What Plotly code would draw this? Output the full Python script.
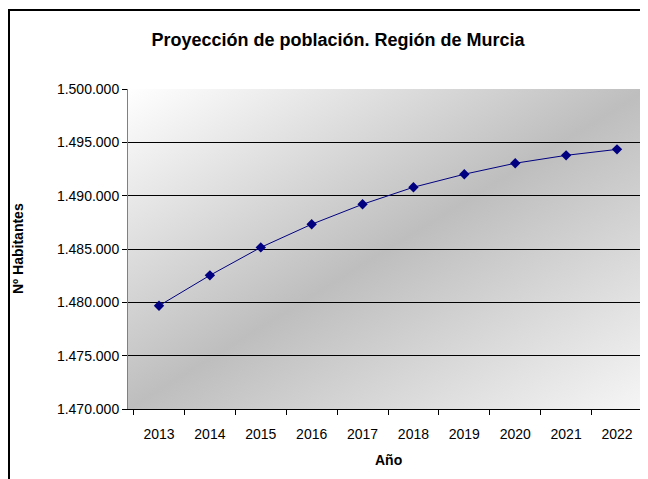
#Proyeccion de poblacion Region de Murcia, line chart with excel style gradient background
import base64
import plotly.graph_objects as go

years = ["2013", "2014", "2015", "2016", "2017", "2018", "2019", "2020", "2021", "2022"]
poblacion = [1479680, 1482530, 1485150, 1487320, 1489190, 1490790, 1492010, 1493040, 1493780, 1494340]
y_ticks = [1470000, 1475000, 1480000, 1485000, 1490000, 1495000, 1500000]

titulo = "Proyección de población. Región de Murcia"
titulo_y = "Nº Habitantes"
titulo_x = "Año"

FONT = "Liberation Sans, Arial, sans-serif"
# the page body has an 8px margin, so the figure is a bit smaller than the window
W, H = 640, 471
L, R, T, B = 120, 0, 81, 70   # plot area 120..640 x 81..401 (figure px)

# diagonal gradient like the excel plot area (light corners, grey band in the middle)
svg = ('<svg xmlns="http://www.w3.org/2000/svg" width="100" height="100" viewBox="0 0 100 100" preserveAspectRatio="none">'
       '<defs><linearGradient id="g" x1="0" y1="0" x2="1" y2="1">'
       '<stop offset="0" stop-color="#FFFFFF"/><stop offset="0.5" stop-color="#BEBEBE"/>'
       '<stop offset="1" stop-color="#F6F6F6"/></linearGradient></defs>'
       '<rect x="0" y="0" width="100" height="100" fill="url(#g)"/></svg>')
bg_uri = "data:image/svg+xml;base64," + base64.b64encode(svg.encode()).decode()

fig = go.Figure()
fig.add_trace(go.Scatter(
    x=years, y=poblacion, mode="lines+markers",
    line=dict(color="#000080", width=1),
    marker=dict(symbol="diamond", size=8, color="#000080"),
    showlegend=False, hoverinfo="x+y"))

pw = W - L - R
ph = H - T - B
def px_x(p):  # figure pixel -> paper
    return (p - L) / pw
def px_y(p):
    return (H - B - p) / ph

fig.update_layout(
    width=W, height=H,
    margin=dict(l=L, r=R, t=T, b=B),
    paper_bgcolor="white",
    plot_bgcolor="rgba(0,0,0,0)",
    separators=",.",
    font=dict(family=FONT, size=14, color="black"),
    title=dict(text="<b>" + titulo + "</b>", font=dict(size=18, family=FONT),
               x=330 / W, xref="container", xanchor="center",
               y=1 - 32 / H, yref="container", yanchor="middle"),
    images=[dict(source=bg_uri, xref="paper", yref="paper", x=0, y=1, sizex=1, sizey=1,
                 xanchor="left", yanchor="top", sizing="stretch", layer="below")],
    xaxis=dict(type="category", tickson="boundaries", ticks="outside", ticklen=5,
               tickcolor="black", showline=True, linecolor="black", linewidth=1,
               showgrid=False, ticklabelstandoff=12, tickfont=dict(size=14)),
    yaxis=dict(range=[1470000, 1500000], tickvals=y_ticks, tickformat=",d",
               ticks="outside", ticklen=5, tickcolor="black",
               showline=True, linecolor="#808080", linewidth=1,
               showgrid=True, gridcolor="black", gridwidth=1,
               zeroline=False, ticklabelstandoff=0, tickfont=dict(size=14)),
    shapes=[dict(type="rect", xref="paper", yref="paper",
                 x0=px_x(1), x1=px_x(660), y0=px_y(490), y1=px_y(2),
                 line=dict(color="black", width=2), layer="above")],
    annotations=[
        dict(text="<b>" + titulo_y + "</b>", xref="paper", yref="paper",
             x=px_x(10), y=0.5, textangle=-90, showarrow=False,
             xanchor="center", yanchor="middle", font=dict(size=14)),
        dict(text="<b>" + titulo_x + "</b>", xref="paper", yref="paper",
             x=px_x(380), y=px_y(452), showarrow=False,
             xanchor="center", yanchor="middle", font=dict(size=14)),
    ],
)

fig.write_html("out.html")
